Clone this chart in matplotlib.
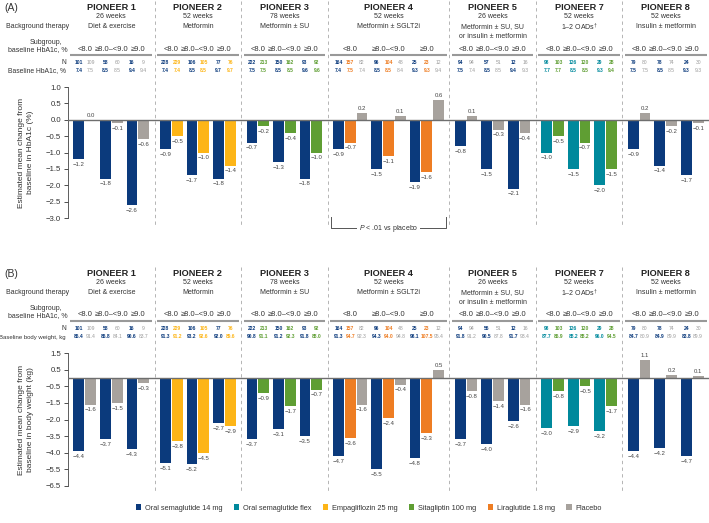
import matplotlib.pyplot as plt
import matplotlib.transforms as mtransforms
from matplotlib.patches import Patch

plt.rcParams["font.family"] = ["Liberation Sans", "DejaVu Sans"]
plt.rcParams["mathtext.fontset"] = "custom"
plt.rcParams["mathtext.rm"] = "Liberation Sans"
plt.rcParams["mathtext.it"] = "Liberation Sans:italic"

# --- data -----------------------------------------------------------------
studies = ["PIONEER 1", "PIONEER 2", "PIONEER 3", "PIONEER 4",
           "PIONEER 5", "PIONEER 7", "PIONEER 8"]
weeks = ["26 weeks", "52 weeks", "78 weeks", "52 weeks",
         "26 weeks", "52 weeks", "52 weeks"]
therapy = ["Diet & exercise", "Metformin", "Metformin ± SU", "Metformin ± SGLT2i",
           "Metformin ± SU, SU\nor insulin ± metformin", "1–2 OADs$^{\\dagger}$",
           "Insulin ± metformin"]
subgroups = ["<8.0", "≥8.0–<9.0", "≥9.0"]
arms = [["sema", "placebo"], ["sema", "empa"], ["sema", "sita"],
        ["sema", "lira", "placebo"], ["sema", "placebo"], ["flex", "sita"],
        ["sema", "placebo"]]

arm_labels = ["Oral semaglutide 14 mg", "Oral semaglutide flex", "Empagliflozin 25 mg",
              "Sitagliptin 100 mg", "Liraglutide 1.8 mg", "Placebo"]
arm_keys = ["sema", "flex", "empa", "sita", "lira", "placebo"]
arm_colors = ["#0b3a7c", "#00899c", "#fdb517", "#5f9e33", "#ee7d23", "#a7a29d"]

# change in HbA1c (%), per study: one list per arm, values per subgroup
hba1c_change = [
    [[-1.2, -1.8, -2.6], [0.0, -0.1, -0.6]],
    [[-0.9, -1.7, -1.8], [-0.5, -1.0, -1.4]],
    [[-0.7, -1.3, -1.8], [-0.2, -0.4, -1.0]],
    [[-0.9, -1.5, -1.9], [-0.7, -1.1, -1.6], [0.2, 0.1, 0.6]],
    [[-0.8, -1.5, -2.1], [0.1, -0.3, -0.4]],
    [[-1.0, -1.5, -2.0], [-0.5, -0.7, -1.5]],
    [[-0.9, -1.4, -1.7], [0.2, -0.2, -0.1]],
]
# change in body weight (kg)
weight_change = [
    [[-4.4, -3.7, -4.3], [-1.6, -1.5, -0.3]],
    [[-5.1, -5.2, -2.7], [-3.8, -4.5, -2.9]],
    [[-3.7, -3.1, -3.5], [-0.9, -1.7, -0.7]],
    [[-4.7, -5.5, -4.8], [-3.6, -2.4, -3.3], [-1.6, -0.4, 0.5]],
    [[-3.7, -4.0, -2.6], [-0.8, -1.4, -1.6]],
    [[-3.0, -2.9, -3.2], [-0.8, -0.5, -1.7]],
    [[-4.4, -4.2, -4.7], [1.1, 0.2, 0.1]],
]
n_hba1c = [
    [[101, 58, 16], [109, 60, 9]],
    [[228, 106, 77], [229, 105, 76]],
    [[222, 150, 93], [213, 162, 92]],
    [[164, 96, 25], [157, 104, 23], [82, 48, 12]],
    [[94, 57, 12], [94, 51, 16]],
    [[98, 126, 29], [103, 120, 28]],
    [[79, 78, 24], [80, 74, 30]],
]
n_weight = [
    [[101, 58, 16], [109, 60, 9]],
    [[228, 106, 77], [229, 105, 76]],
    [[222, 150, 93], [213, 162, 92]],
    [[164, 96, 25], [157, 104, 23], [82, 48, 12]],
    [[94, 56, 12], [94, 51, 16]],
    [[98, 126, 29], [103, 120, 28]],
    [[79, 78, 24], [80, 74, 30]],
]
baseline_hba1c = [
    [[7.4, 8.5, 9.4], [7.5, 8.5, 9.4]],
    [[7.4, 8.5, 9.7], [7.4, 8.5, 9.7]],
    [[7.5, 8.5, 9.6], [7.5, 8.5, 9.6]],
    [[7.4, 8.5, 9.3], [7.5, 8.5, 9.3], [7.4, 8.4, 9.4]],
    [[7.5, 8.5, 9.4], [7.4, 8.5, 9.3]],
    [[7.7, 8.5, 9.3], [7.7, 8.5, 9.4]],
    [[7.5, 8.5, 9.3], [7.5, 8.5, 9.3]],
]
baseline_weight = [
    [[86.4, 86.8, 90.6], [91.4, 84.1, 83.7]],
    [[91.3, 93.2, 92.0], [91.2, 92.6, 89.6]],
    [[90.8, 91.2, 91.8], [91.1, 92.3, 88.0]],
    [[91.3, 94.3, 98.1], [94.7, 94.0, 107.5], [92.3, 94.8, 95.4]],
    [[91.8, 90.5, 91.7], [91.2, 87.8, 93.4]],
    [[87.7, 88.2, 96.0], [86.9, 88.2, 94.5]],
    [[84.7, 84.9, 83.8], [80.9, 89.9, 89.9]],
]

a_ticks = [1.0, 0.5, 0.0, -0.5, -1.0, -1.5, -2.0, -2.5, -3.0]
a_ticklabels = ["1.0", "0.5", "0.0", "−0.5", "−1.0", "−1.5", "−2.0", "−2.5", "−3.0"]
b_ticks = [1.5, 0.5, -0.5, -1.5, -2.5, -3.5, -4.5, -5.5, -6.5]
b_ticklabels = ["1.5", "0.5", "−0.5", "−1.5", "−2.0", "−3.5", "−4.0", "−5.5", "−6.5"]

# --- layout ---------------------------------------------------------------
FW, FH = 709, 523
BW, INNER, GAP, PAD = 11.0, 0.9, 4.0, 5.5
color_of = dict(zip(arm_keys, arm_colors))

bounds, bar_x = [0.0], []
x = 0.0
for arm in arms:
    n = len(arm)
    gw = n * BW + (n - 1) * INNER
    gx = x + PAD
    pos = []
    for g in range(3):
        pos.append([gx + k * (BW + INNER) + BW / 2 for k in range(n)])
        gx += gw + GAP
    bar_x.append(pos)
    x = gx - GAP + PAD
    bounds.append(x)
total = x


def fy(px):
    return 1 - px / FH


def fx(px):
    return px / FW


def fmt(v):
    return f"{v:.1f}".replace("-", "−")


fig = plt.figure(figsize=(7.09, 5.23), dpi=100)
TXT = "#333333"


def draw_panel(off, ax_top, ax_bot, change, n_vals, base_vals, base_label, base_size,
               ylim, ticks, ticklabels, ylabel, tag, bracket):
    ax = fig.add_axes([fx(68), fy(ax_bot), fx(641), (ax_bot - ax_top) / FH])
    ax.set_xlim(0, total)
    ax.set_ylim(*ylim)
    bt = mtransforms.blended_transform_factory(ax.transData, fig.transFigure)

    for i in range(len(studies)):
        for a, key in enumerate(arms[i]):
            xs = [bar_x[i][g][a] for g in range(3)]
            vals = change[i][a]
            ax.bar(xs, vals, width=BW, color=color_of[key], linewidth=0)
            for xx, v in zip(xs, vals):
                if v < 0:
                    ax.annotate(fmt(v), (xx, v), xytext=(0, -2), textcoords="offset points",
                                ha="center", va="top", fontsize=4.3, color="#444444")
                else:
                    ax.annotate(fmt(v), (xx, v), xytext=(0, 1.5), textcoords="offset points",
                                ha="center", va="bottom", fontsize=4.3, color="#444444")
            # N and baseline rows
            for g in range(3):
                c = color_of[key] if key != "placebo" else "#9a9a9a"
                ax.text(bar_x[i][g][a], fy(off + 62), str(n_vals[i][a][g]), transform=bt,
                        ha="center", va="center", fontsize=3.6, color=c,
                        fontweight="bold" if key != "placebo" else "normal")
                ax.text(bar_x[i][g][a], fy(off + 71), f"{base_vals[i][a][g]:.1f}", transform=bt,
                        ha="center", va="center", fontsize=3.6, color=c,
                        fontweight="bold" if key != "placebo" else "normal")

        cx = (bounds[i] + bounds[i + 1]) / 2
        ax.text(cx, fy(off + 7), studies[i], transform=bt, ha="center", va="center",
                fontsize=6.6, fontweight="bold", color="#222222")
        ax.text(cx, fy(off + 17), weeks[i], transform=bt, ha="center", va="center",
                fontsize=5, color=TXT)
        for k, line in enumerate(therapy[i].split("\n")):
            ax.text(cx, fy(off + 27 + 9 * k), line, transform=bt, ha="center", va="center",
                    fontsize=5, color=TXT)
        for g in range(3):
            gx = sum(bar_x[i][g]) / len(bar_x[i][g])
            ax.text(gx, fy(off + 49), subgroups[g], transform=bt, ha="center", va="center",
                    fontsize=5.4, color=TXT)
        ax.plot([bounds[i] + 2.5, bounds[i + 1] - 2.5], [fy(off + 54.5)] * 2, transform=bt,
                color="#999999", lw=1.5, clip_on=False, solid_capstyle="butt")
        if i > 0:
            ax.plot([bounds[i]] * 2, [fy(off + 1), fy(off + 227)], transform=bt,
                    color="#a8a8a8", lw=0.6, ls=(0, (4, 4)), clip_on=False)

    # row labels on the left
    fig.text(fx(4), fy(off + 8), tag, ha="left", va="center", fontsize=7.5, color=TXT)
    fig.text(fx(69), fy(off + 27), "Background therapy", ha="right", va="center",
             fontsize=5, color=TXT)
    fig.text(fx(62), fy(off + 42), "Subgroup,", ha="right", va="center", fontsize=5, color=TXT)
    fig.text(fx(68), fy(off + 50), "baseline HbA1c, %", ha="right", va="center",
             fontsize=5, color=TXT)
    fig.text(fx(66), fy(off + 62), "N", ha="right", va="center", fontsize=4.8, color=TXT)
    fig.text(fx(66), fy(off + 71), base_label, ha="right", va="center", fontsize=base_size,
             color=TXT)
    fig.text(fx(26), fy((ax_top + ax_bot) / 2), ylabel, rotation=90, ha="center",
             va="center", fontsize=6, color=TXT, multialignment="center", linespacing=1.2)

    ax.axhline(0, color="#6e6e6e", lw=1.0, zorder=3)
    for s in ["top", "right", "bottom"]:
        ax.spines[s].set_visible(False)
    ax.spines["left"].set_color("#444444")
    ax.spines["left"].set_linewidth(0.6)
    ax.set_xticks([])
    ax.set_yticks(ticks)
    ax.set_yticklabels(ticklabels)
    ax.tick_params(axis="y", labelsize=5.6, colors=TXT, length=3, width=0.6, pad=2)

    if bracket:
        b0, b1 = bounds[3] + 3, bounds[4] - 3
        ax.plot([b0, b0, b1, b1], [fy(217), fy(228), fy(228), fy(217)], transform=bt,
                color="#555555", lw=0.7, clip_on=False)
        ax.text((b0 + b1) / 2, fy(228), "$P$ < .01 vs placebo", transform=bt,
                ha="center", va="center", fontsize=5, color=TXT,
                bbox=dict(facecolor="white", edgecolor="none", pad=1.2))
    return ax


draw_panel(0, 87, 218, hba1c_change, n_hba1c, baseline_hba1c, "Baseline HbA1c, %", 4.9,
           (-3.0, 1.0), a_ticks, a_ticklabels,
           "Estimated mean change from\nbaseline in HbA1c (%)", "(A)", True)
draw_panel(266, 353, 486, weight_change, n_weight, baseline_weight, "Baseline body weight, kg",
           4.3, (-6.5, 1.5), b_ticks, b_ticklabels,
           "Estimated mean change from\nbaseline in body weight (kg)", "(B)", False)

handles = [Patch(facecolor=c, edgecolor="none") for c in arm_colors]
fig.legend(handles, arm_labels, loc="center", bbox_to_anchor=(0.52, fy(508)), ncol=6,
           fontsize=5.3, frameon=False, handlelength=0.7, handleheight=0.7,
           handletextpad=0.5, columnspacing=1.6, labelcolor=TXT)

fig.savefig("out.png", dpi=100, facecolor="white")
